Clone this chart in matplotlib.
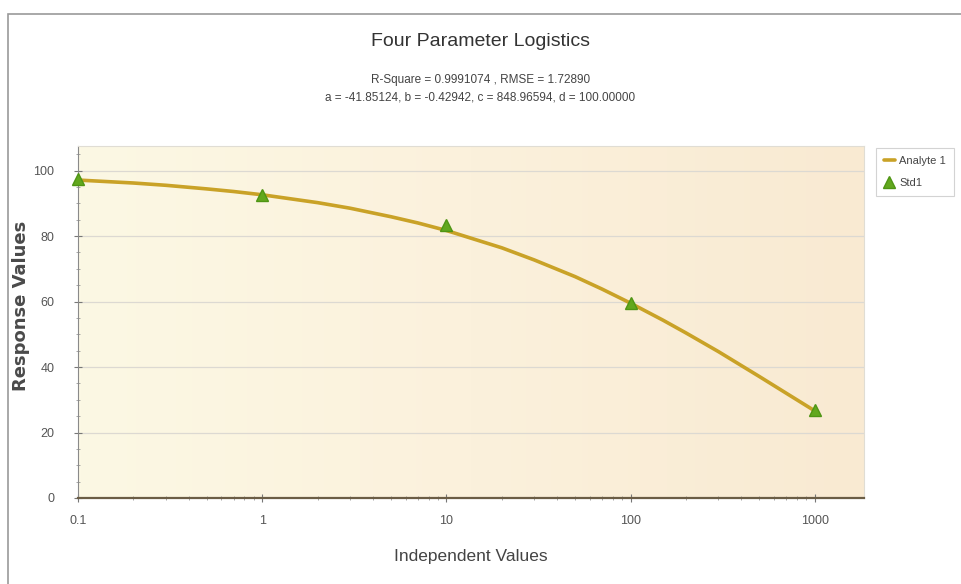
import matplotlib
matplotlib.use("Agg")
import matplotlib.pyplot as plt
import numpy as np
from matplotlib.patches import Rectangle
from matplotlib.ticker import LogLocator, NullFormatter, FixedLocator
from matplotlib.colors import LinearSegmentedColormap

# ---- data ----
curve_x = [0.1, 0.2, 0.3, 0.5, 0.7, 1, 2, 3, 5, 7, 10, 20, 30, 50, 70, 100, 150, 200, 300, 500, 700, 1000]
curve_y = [97.1, 96.2, 95.5, 94.4, 93.6, 92.6, 90.2, 88.5, 85.9, 84.0, 81.7, 76.4, 72.7, 67.6, 63.8,
           59.5, 54.3, 50.4, 44.7, 37.1, 32.0, 26.6]
std_x = [0.1, 1, 10, 100, 1000]
std_y = [97.5, 92.5, 83.5, 59.5, 27.0]
xticks = [0.1, 1, 10, 100, 1000]
xtick_labels = ["0.1", "1", "10", "100", "1000"]
yticks = [0, 20, 40, 60, 80, 100]
series_names = ["Analyte 1", "Std1"]
title = "Four Parameter Logistics"
subtitle1 = "R-Square = 0.9991074 , RMSE = 1.72890"
subtitle2 = "a = -41.85124, b = -0.42942, c = 848.96594, d = 100.00000"

plt.rcParams['font.family'] = ['Liberation Sans', 'DejaVu Sans']

fig = plt.figure(figsize=(9.61, 5.84), dpi=100)
fig.patch.set_facecolor('white')

# outer border
fig.patches.append(Rectangle((8/961, -0.01), 1.0, 1 - 14/584 + 0.01, transform=fig.transFigure,
                             fill=False, edgecolor='#9a9a9a', linewidth=1.2, zorder=0))

ax = fig.add_axes([78/961, 1 - 498/584, (864 - 78)/961, (498 - 146)/584])

# gradient background
grad = np.linspace(0, 1, 256).reshape(1, -1)
cmap = LinearSegmentedColormap.from_list('bg', ['#fcf8e4', '#fbf1dc', '#f9ead2'])
ax.imshow(grad, extent=[0, 1, 0, 1], transform=ax.transAxes, cmap=cmap, aspect='auto', zorder=0)

ax.set_xscale('log')
ax.set_xlim(0.1, 1850)
ax.set_ylim(0, 107.5)

ax.yaxis.grid(True, color='#dcd9d2', linewidth=0.9)
ax.set_axisbelow(True)

ax.plot(curve_x, curve_y, color='#c9a227', linewidth=2.6, label=series_names[0], zorder=3,
        solid_capstyle='round', solid_joinstyle='round')
ax.plot(std_x, std_y, linestyle='none', marker='^', markersize=9, color='#62a81e',
        markeredgecolor='#4f9514', label=series_names[1], zorder=4, clip_on=False)

ax.xaxis.set_major_locator(FixedLocator(xticks))
ax.set_xticklabels(xtick_labels)
ax.xaxis.set_minor_locator(LogLocator(base=10, subs=np.arange(2, 10)))
ax.xaxis.set_minor_formatter(NullFormatter())
ax.set_yticks(yticks)
ax.yaxis.set_minor_locator(FixedLocator(np.arange(0, 107, 5)))

for s in ['top', 'right']:
    ax.spines[s].set_color('#e0ddd4')
    ax.spines[s].set_linewidth(0.8)
ax.spines['left'].set_color('#8a8a8a')
ax.spines['bottom'].set_color('#6b5d45')
ax.spines['bottom'].set_linewidth(1.6)

ax.tick_params(axis='both', which='major', direction='inout', length=6, color='#777777',
               labelsize=9, labelcolor='#555555', pad=9)
ax.tick_params(axis='y', which='major', pad=14)
ax.tick_params(axis='both', which='minor', direction='inout', length=3, color='#999999')

ax.set_xlabel("Independent Values", fontsize=12.5, color='#444444', labelpad=16)
ax.set_ylabel("Response Values", fontsize=13, color='#4a4a4a',
              family=['DejaVu Sans'], fontweight='semibold')
ax.yaxis.set_label_coords((30 - 78) / 786, (498 - 306) / 352)

fig.text(0.5, 1 - 42/584, title, ha='center', va='center', fontsize=14, color='#333333')
fig.text(0.5, 1 - 80/584, subtitle1, ha='center', va='center', fontsize=8.5, color='#444444')
fig.text(0.5, 1 - 98/584, subtitle2, ha='center', va='center', fontsize=8.5, color='#444444')

leg = ax.legend(loc='upper left', bbox_to_anchor=(876/961, 1 - 148/584), bbox_transform=fig.transFigure,
                frameon=True, fontsize=8, handlelength=1.0, handletextpad=0.4, borderpad=0.7,
                labelspacing=1.1, fancybox=False, shadow=False, borderaxespad=0)
leg.get_frame().set_edgecolor('#c8c8c8')
leg.get_frame().set_linewidth(0.8)
for t in leg.get_texts():
    t.set_color('#444444')

fig.savefig('out.png', dpi=100, facecolor='white')
